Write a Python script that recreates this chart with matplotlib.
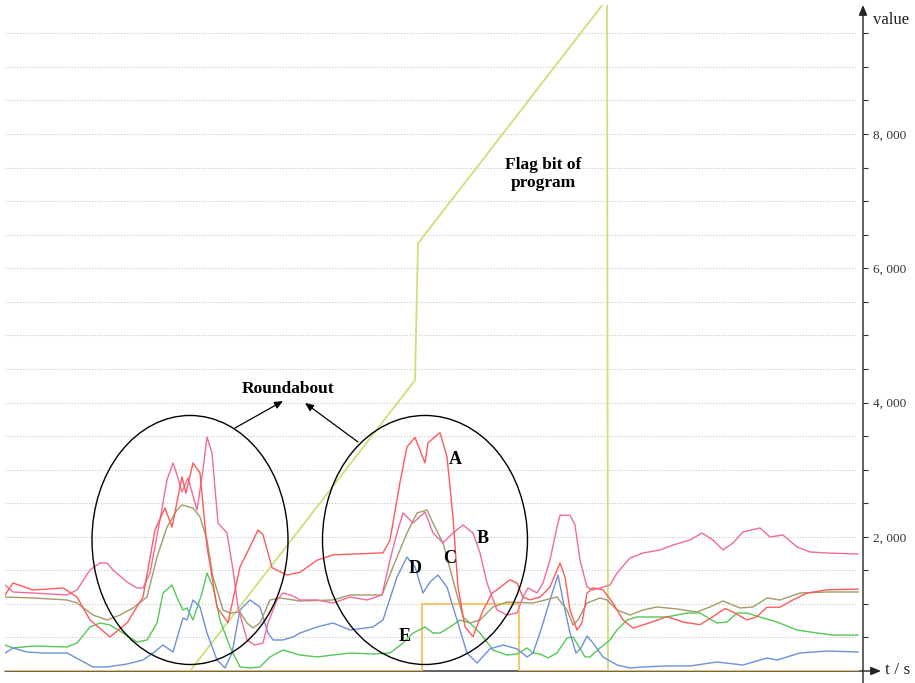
import matplotlib
matplotlib.use("Agg")
import matplotlib.pyplot as plt
from matplotlib.patches import Ellipse
from matplotlib.ticker import FixedLocator, FuncFormatter

plt.rcParams['font.family'] = ['Liberation Serif', 'DejaVu Serif']

# ---------------- data (time in s, value) ----------------
a_t = [5, 13, 33, 63, 77, 90, 110, 127, 143, 155, 165, 172, 182, 186, 193, 200, 207, 217, 228, 240,
       250, 258, 263, 272, 287, 300, 317, 333, 383, 390, 400, 407, 415, 425, 428, 440, 447, 453, 458, 465,
       473, 482, 492, 497, 510, 517, 523, 530, 540, 550, 560, 565, 570, 577, 582, 587, 593, 603, 613, 623,
       633, 650, 667, 683, 700, 713, 725, 733, 747, 757, 767, 780, 793, 807, 827, 858]
a_v = [1132, 1311, 1207, 1237, 1102, 760, 507, 715, 1102, 2101, 2428, 2145, 2890, 2650, 3100, 2950, 1850, 950, 720, 1550,
       1850, 2100, 2030, 1540, 1430, 1470, 1650, 1730, 1760, 1950, 2810, 3340, 3480, 3100, 3400, 3550, 3190, 2290, 1250, 660,
       510, 870, 1160, 1210, 1360, 1310, 1100, 1060, 1100, 1250, 1610, 1400, 910, 610, 720, 1160, 1240, 1210, 1010, 760,
       640, 720, 810, 730, 690, 810, 930, 880, 760, 810, 950, 950, 1060, 1160, 1210, 1220]

b_t = [5, 13, 33, 67, 77, 90, 100, 107, 113, 127, 137, 143, 150, 160, 167, 173, 177, 182, 188, 197,
       203, 207, 212, 218, 227, 233, 238, 247, 255, 263, 268, 277, 283, 293, 300, 317, 333, 350, 367, 382,
       390, 397, 403, 413, 425, 433, 443, 453, 463, 473, 480, 487, 497, 507, 517, 523, 528, 537, 543, 550,
       557, 560, 570, 575, 580, 587, 593, 600, 610, 617, 630, 643, 660, 673, 690, 702, 713, 723, 733, 743,
       760, 770, 783, 797, 810, 827, 858]
b_v = [1281, 1177, 1162, 1132, 1207, 1505, 1609, 1609, 1505, 1326, 1237, 1237, 1460, 2250, 2846, 3099, 2920, 2667, 2876, 2399,
       2995, 3487, 3248, 2205, 2056, 1505, 954, 462, 387, 417, 715, 1058, 1162, 1118, 1058, 1058, 1013, 1102, 1058, 1132,
       1654, 2056, 2354, 2205, 2369, 2056, 1907, 2056, 2175, 2056, 1758, 1311, 909, 834, 864, 1102, 1237, 1162, 1311, 1654,
       2146, 2320, 2320, 2175, 1654, 1251, 1207, 1237, 1281, 1460, 1684, 1758, 1803, 1877, 1952, 2056, 1952, 1803, 1907, 2071,
       2131, 1997, 2026, 1848, 1773, 1758, 1743]

c_t = [5, 33, 67, 77, 93, 107, 120, 133, 147, 157, 167, 177, 182, 193, 200, 207, 213, 223, 230, 240,
       247, 253, 260, 270, 280, 300, 333, 350, 382, 393, 407, 417, 427, 433, 443, 453, 463, 470, 480, 493,
       507, 533, 557, 567, 573, 578, 587, 600, 607, 617, 630, 643, 657, 677, 697, 710, 723, 740, 753, 767,
       780, 800, 827, 858]
c_v = [1102, 1088, 1058, 1013, 834, 760, 834, 939, 1102, 1698, 2145, 2399, 2473, 2428, 2295, 1952, 1400, 909, 864, 879,
       715, 641, 715, 1058, 1088, 1043, 1058, 1132, 1132, 1550, 2056, 2354, 2399, 2205, 1907, 1356, 805, 715, 760, 954,
       1028, 1013, 1102, 909, 685, 760, 1013, 1088, 1058, 909, 834, 909, 954, 924, 879, 954, 1043, 939, 954, 1088,
       1058, 1162, 1177, 1177]

d_t = [5, 13, 27, 43, 67, 80, 93, 107, 127, 143, 153, 163, 173, 183, 187, 193, 200, 207, 217, 225,
       232, 240, 250, 260, 268, 273, 283, 293, 300, 317, 333, 350, 373, 383, 397, 407, 415, 423, 430, 438,
       447, 457, 467, 477, 490, 503, 517, 527, 533, 540, 550, 558, 565, 570, 576, 581, 587, 593, 603, 617,
       630, 643, 667, 690, 717, 743, 767, 777, 800, 827, 858]
d_v = [268, 343, 283, 268, 268, 164, 60, 60, 104, 164, 268, 387, 283, 790, 760, 1058, 954, 566, 164, 45,
       268, 909, 1058, 954, 566, 462, 462, 507, 566, 656, 715, 611, 656, 760, 1400, 1698, 1550, 1162, 1326, 1430,
       1251, 760, 268, 119, 330, 387, 330, 209, 268, 566, 1058, 1430, 909, 566, 268, 343, 522, 417, 209, 89,
       45, 60, 75, 75, 134, 89, 194, 164, 268, 298, 283]

e_t = [5, 13, 33, 67, 77, 90, 100, 110, 123, 137, 147, 157, 163, 172, 178, 183, 187, 193, 202, 207,
       213, 220, 230, 240, 250, 260, 270, 283, 293, 300, 317, 333, 350, 373, 390, 403, 413, 425, 433, 440,
       453, 460, 470, 480, 493, 507, 517, 527, 533, 540, 548, 557, 567, 573, 578, 585, 590, 600, 610, 617,
       627, 637, 667, 687, 700, 717, 727, 737, 747, 763, 777, 797, 817, 833, 858]
e_v = [387, 343, 372, 358, 417, 656, 715, 685, 566, 432, 462, 715, 1162, 1281, 1058, 909, 939, 760, 1162, 1460,
       1251, 760, 358, 60, 45, 60, 209, 313, 268, 238, 209, 238, 268, 253, 268, 417, 566, 656, 566, 566,
       685, 760, 715, 566, 313, 238, 253, 343, 268, 253, 194, 268, 492, 507, 387, 209, 209, 343, 462, 611,
       760, 805, 805, 864, 864, 715, 730, 864, 864, 790, 730, 611, 566, 536, 536]

flag_t = [5, 190, 415, 418, 607, 608, 858]
flag_v = [0, 0, 4333, 6370, 10011, 0, 0]

step_t = [5, 422, 422, 519, 519, 858]
step_v = [0, 0, 1000, 1000, 0, 0]

y_ticks = list(range(500, 10000, 500))
y_labels_at = [2000, 4000, 6000, 8000]

# ---------------- figure ----------------
W, H = 915, 683
fig = plt.figure(figsize=(W / 100, H / 100), dpi=100)
X0, X1, Y0, Y1 = 5, 863, 671, 5
ax = fig.add_axes([X0 / W, 1 - Y0 / H, (X1 - X0) / W, (Y0 - Y1) / H])
ax.set_xlim(5, 863)
ax.set_ylim(0, 9922)

for s in ax.spines.values():
    s.set_visible(False)

# grid
for v in y_ticks:
    ax.plot([5, 857], [v, v], color='#c4c4c4', lw=0.8, ls=(0, (1, 1.6)), zorder=0)

lw = 1.0
ax.plot(flag_t, flag_v, color='#c8e27a', lw=1.3, zorder=2)
ax.plot(step_t, step_v, color='#f7c060', lw=1.3, zorder=2)
ax.plot(e_t, e_v, color='#55c855', lw=lw, zorder=3)
ax.plot(d_t, d_v, color='#6f8fd8', lw=lw, zorder=3)
ax.plot(c_t, c_v, color='#a39a68', lw=lw, zorder=3)
ax.plot(b_t, b_v, color='#f06a9e', lw=lw, zorder=3)
ax.plot(a_t, a_v, color='#ff5a5a', lw=lw, zorder=3)

# axes arrows
ax.annotate('', xy=(881, 0), xytext=(5, 0), xycoords='data', textcoords='data',
            annotation_clip=False,
            arrowprops=dict(arrowstyle='-|>,head_length=0.6,head_width=0.25', color='#222222', lw=1.0,
                            shrinkA=0, shrinkB=0), zorder=1)
ax.annotate('', xy=(863, 1.0), xytext=(863, -0.02),
            xycoords=('data', 'axes fraction'), textcoords=('data', 'axes fraction'),
            annotation_clip=False,
            arrowprops=dict(arrowstyle='-|>,head_length=0.6,head_width=0.25', color='#222222', lw=1.0,
                            shrinkA=0, shrinkB=0), zorder=5)

# y ticks on the right
ax.yaxis.tick_right()
ax.yaxis.set_major_locator(FixedLocator(y_ticks))
ax.yaxis.set_major_formatter(FuncFormatter(
    lambda v, p: (f"{int(v) // 1000}, {int(v) % 1000:03d}" if int(v) in y_labels_at else "")))
ax.tick_params(axis='y', direction='out', length=3.5, width=0.8, color='#333333', pad=4,
               labelsize=9.5, labelcolor='#333333')
ax.set_xticks([])

fig.text(873 / W, 1 - 20 / H, 'value', fontsize=12, va='center', ha='left', color='#222222')
fig.text(885 / W, 1 - 670 / H, 't / s', fontsize=12.5, va='center', ha='left', color='#222222')

# ellipses
ax.add_patch(Ellipse((190, 1952), 196, 3710, fill=False, ec='black', lw=1.0, zorder=4))
ax.add_patch(Ellipse((425, 1952), 205, 3710, fill=False, ec='black', lw=1.0, zorder=4))

arrow_kw = dict(arrowstyle='-|>,head_length=0.5,head_width=0.22', color='black', lw=0.9,
                shrinkA=0, shrinkB=0)
ax.annotate('', xy=(283, 4022), xytext=(235, 3620), arrowprops=arrow_kw, zorder=4)
ax.annotate('', xy=(305, 3993), xytext=(358, 3412), arrowprops=arrow_kw, zorder=4)

bold = dict(fontweight='bold', ha='center', va='center', color='black', zorder=6)
ax.text(288, 4201, 'Roundabout', fontsize=12.5, **bold)
ax.text(543, 7404, 'Flag bit of\nprogram', fontsize=12.5, linespacing=1.2, **bold)
for lbl, lx, ly in [('A', 455, 3158), ('B', 483, 1981), ('C', 450, 1669), ('D', 415, 1534), ('E', 405, 507)]:
    ax.text(lx, ly, lbl, fontsize=13, **bold)

fig.savefig('out.png', dpi=100)
